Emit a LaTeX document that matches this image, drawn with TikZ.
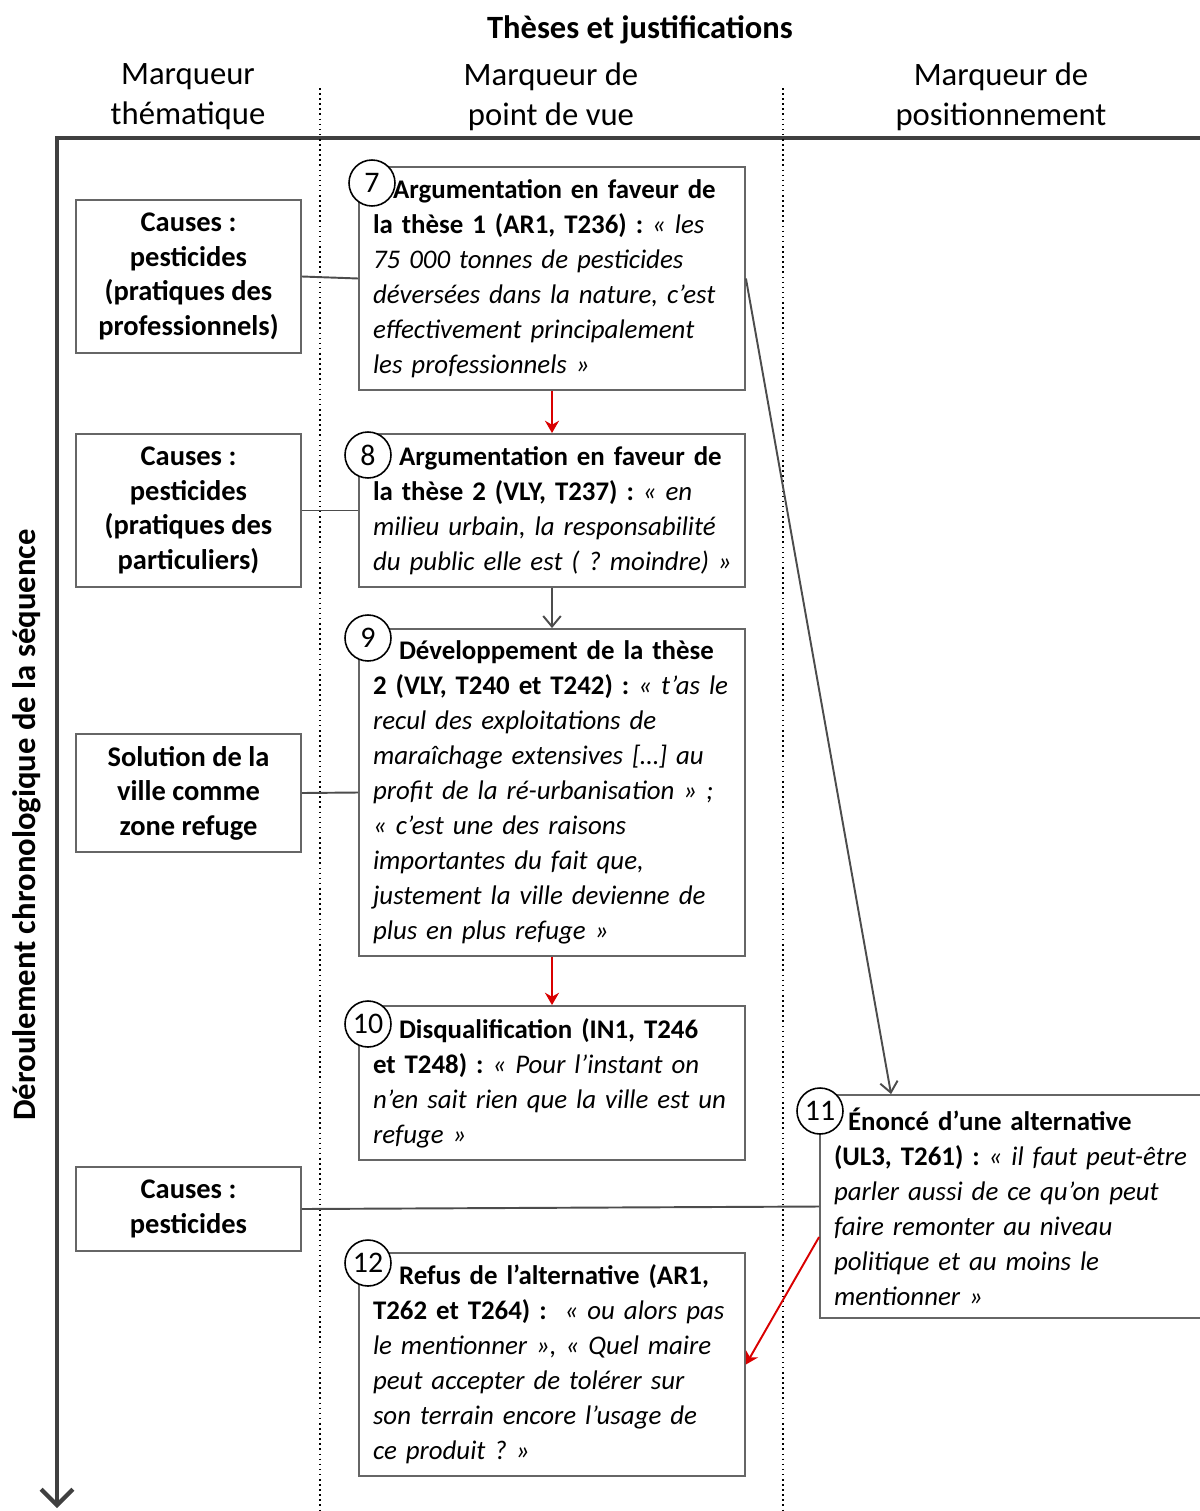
\documentclass[tikz,border=0pt]{standalone}
\usepackage{fontspec}
\setmainfont{Carlito}
\usetikzlibrary{arrows.meta}
\frenchspacing

\begin{document}
\begin{tikzpicture}[x=0.02cm,y=-0.02cm,
    theme/.style={draw=black!60, line width=1.1pt, font=\bfseries\fontsize{16.2}{19.6}\selectfont,
        align=center, minimum width=4.5cm, inner sep=0pt},
    thesis/.style={draw=black!60, line width=1.1pt, fill=white, font=\fontsize{15.3}{19.9}\selectfont,
        align=left, text width=7.32cm, inner xsep=0.2cm, inner ysep=0pt, minimum width=7.72cm,
        execute at begin node={\leftskip=0.08cm\relax}},
    num/.style={circle, draw=black, line width=0.9pt, fill=white, minimum size=0.92cm, inner sep=0pt,
        font=\fontsize{17}{17}\selectfont},
    head/.style={align=center, font=\fontsize{18.6}{22.7}\selectfont},
    link/.style={draw=black!70, line width=1.1pt},
    redarrow/.style={draw=red!85!black, line width=1.1pt, -{Stealth[length=7pt,width=8pt]}},
    grayarrow/.style={draw=black!70, line width=1.1pt, -{Straight Barb[length=6pt,width=10pt]}}]

    \useasboundingbox (0,0) rectangle (1200,1511);

    % titles
    \node[font=\bfseries\fontsize{18.5}{20}\selectfont] at (640,30) (title) {Thèses et justifications};
    \node[head] at (188,97) (h1) {Marqueur\\thématique};
    \node[head] at (551,97) (h2) {Marqueur de\\point de vue};
    \node[head] at (1001,97) (h3) {Marqueur de\\positionnement};

    % axes and column separators
    \draw[line width=2.4pt, black!75, -{Straight Barb[length=9pt,width=18pt]}] (1205,138) -- (57,138) -- (57,1508);
    \draw[dotted, line width=0.9pt] (320,88) -- (320,1511);
    \draw[dotted, line width=0.9pt] (783,88) -- (783,1511);
    \node[rotate=90, font=\bfseries\fontsize{18.6}{20}\selectfont] at (27,825) (axis) {Déroulement chronologique de la séquence};

    % thematic markers
    \node[theme, minimum height=3.06cm] at (188.5,276.5) (A1) {Causes :\\pesticides\\(pratiques des\\professionnels)};
    \node[theme, minimum height=3.06cm] at (188.5,510.5) (A2) {Causes :\\pesticides\\(pratiques des\\particuliers)};
    \node[theme, minimum height=2.36cm] at (188.5,793) (A3) {Solution de la\\ville comme\\zone refuge};
    \node[theme, minimum height=1.68cm] at (188.5,1209) (A4) {Causes :\\pesticides};

    % point of view markers
    \node[thesis, minimum height=4.46cm] at (552,278.5) (B7) {\hspace*{0.4cm}\textbf{Argumentation en faveur de}\\\textbf{la thèse 1 (AR1, T236) :} \textit{« les}\\\textit{75 000 tonnes de pesticides}\\\textit{déversées dans la nature, c’est}\\\textit{effectivement principalement}\\\textit{les professionnels »}};
    \node[thesis, minimum height=3.06cm] at (552,510.5) (B8) {\hspace*{0.52cm}\textbf{Argumentation en faveur de}\\\textbf{la thèse 2 (VLY, T237) :} \textit{« en}\\\textit{milieu urbain, la responsabilité}\\\textit{du public elle est ( ? moindre) »}};
    \node[thesis, minimum height=6.54cm] at (552,792.5) (B9) {\hspace*{0.52cm}\textbf{Développement de la thèse}\\\textbf{2 (VLY, T240 et T242) :} \textit{« t’as le}\\\textit{recul des exploitations de}\\\textit{maraîchage extensives […] au}\\\textit{profit de la ré-urbanisation » ;}\\\textit{« c’est une des raisons}\\\textit{importantes du fait que,}\\\textit{justement la ville devienne de}\\\textit{plus en plus refuge »}};
    \node[thesis, minimum height=3.08cm] at (552,1083) (B10) {\hspace*{0.52cm}\textbf{Disqualification (IN1, T246}\\\textbf{et T248) :} \textit{« Pour l’instant on}\\\textit{n’en sait rien que la ville est un}\\\textit{refuge »}};
    \node[thesis, minimum height=4.46cm] at (552,1364.5) (B12) {\hspace*{0.52cm}\textbf{Refus de l’alternative (AR1,}\\\textbf{T262 et T264) :}\ \ \textit{« ou alors pas}\\\textit{le mentionner », « Quel maire}\\\textit{peut accepter de tolérer sur}\\\textit{son terrain encore l’usage de}\\\textit{ce produit ? »}};

    % positioning marker
    \node[thesis, text width=7.5cm, minimum width=7.9cm, minimum height=4.46cm] at (1017.5,1206.5) (B11) {\hspace*{0.28cm}\textbf{Énoncé d’une alternative}\\\textbf{(UL3, T261) :} \textit{« il faut peut-être}\\\textit{parler aussi de ce qu’on peut}\\\textit{faire remonter au niveau}\\\textit{politique et au moins le}\\\textit{mentionner »}};

    % numbers
    \node[num] at (372,183) (n7) {7};
    \node[num] at (368,455) (n8) {8};
    \node[num] at (368,638) (n9) {9};
    \node[num] at (368,1024) (n10) {10};
    \node[num] at (820,1111) (n11) {11};
    \node[num] at (368,1263) (n12) {12};

    % links
    \draw[link] (A1.east) -- (B7.west);
    \draw[link] (A2.east) -- (B8.west);
    \draw[link] (A3.east) -- (B9.west);
    \draw[link] (A4.east) -- (B11.west);

    \draw[redarrow] (B7.south) -- (B8.north);
    \draw[grayarrow] (B8.south) -- (B9.north);
    \draw[redarrow] (B9.south) -- (B10.north);
    \draw[grayarrow] (B7.east) -- ([xshift=1.44cm]B11.north west);
    \draw[redarrow] ([yshift=-0.61cm]B11.west) -- (B12.east);

\end{tikzpicture}
\end{document}
